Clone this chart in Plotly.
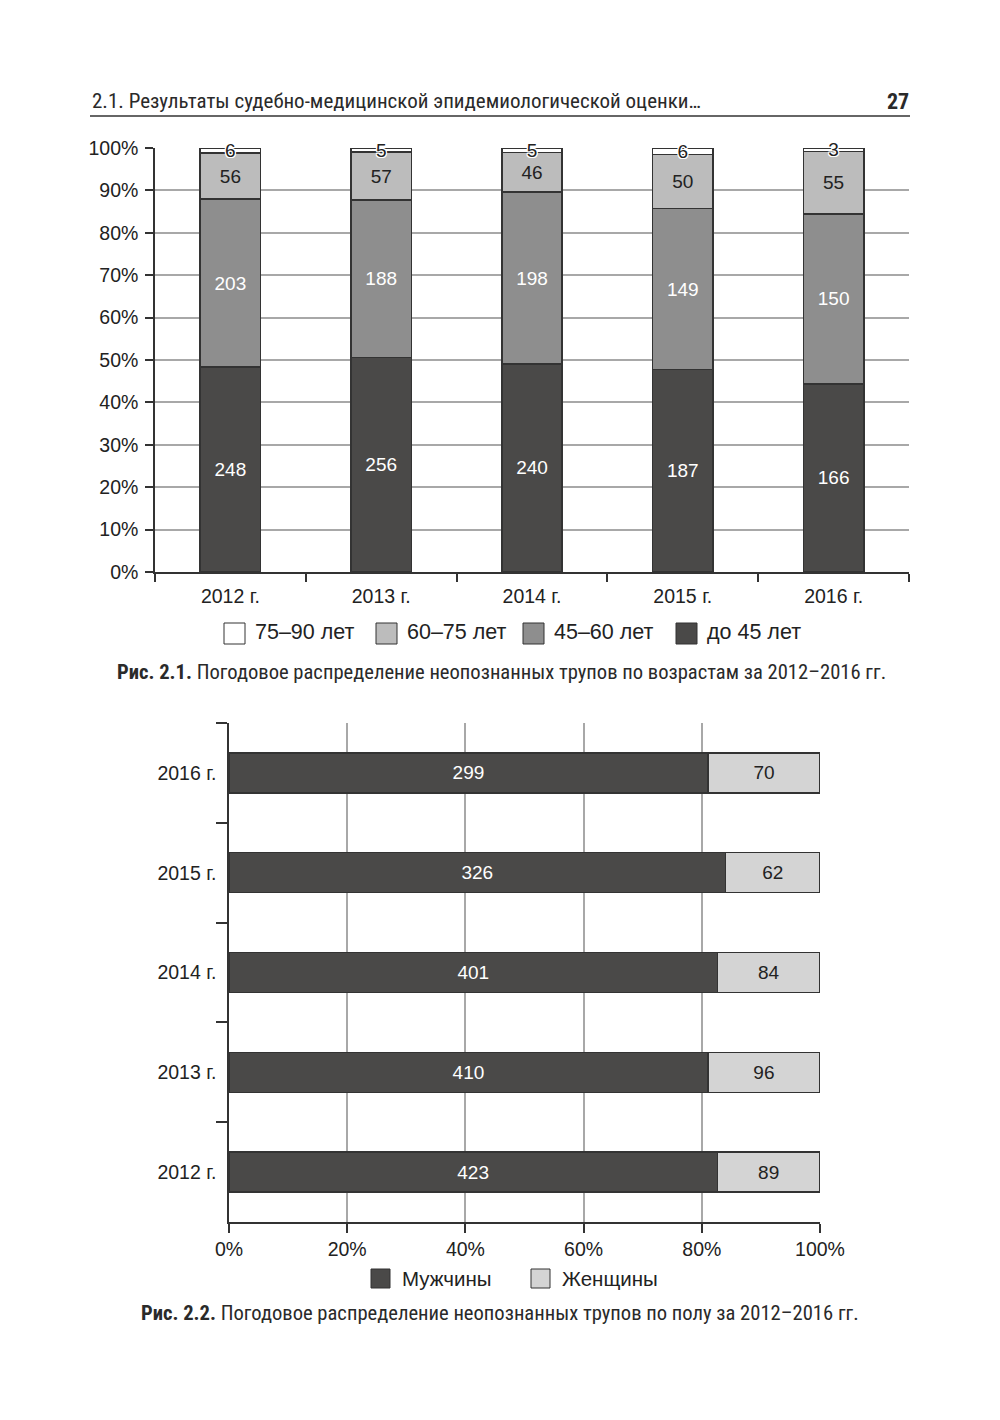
import plotly.graph_objects as go

# ---------------- data ----------------
years = ["2012 г.", "2013 г.", "2014 г.", "2015 г.", "2016 г."]
age_under45 = [248, 256, 240, 187, 166]
age_45_60 = [203, 188, 198, 149, 150]
age_60_75 = [56, 57, 46, 50, 55]
age_75_90 = [6, 5, 5, 6, 3]
age_names = ["до 45 лет", "45–60 лет", "60–75 лет", "75–90 лет"]

men = [423, 410, 401, 326, 299]
women = [89, 96, 84, 62, 70]
sex_names = ["Мужчины", "Женщины"]

pct_ticks_top = list(range(0, 101, 10))
pct_ticks_bottom = list(range(0, 101, 20))

# ---------------- style ----------------
W, H = 1000, 1420
OFF = 8  # page body margin compensation
def px(x):
    return (x - OFF) / W
def py(y):
    return 1 - (y - OFF) / H

FONT = "Liberation Sans, Arial, sans-serif"
COND = "Liberation Sans Narrow, Roboto Condensed, DejaVu Sans Condensed, sans-serif"
DARK = "#4a4948"
MID = "#8e8e8e"
LIGHT = "#bcbcbc"
WHITE = "#ffffff"
LIGHT2 = "#d4d4d4"
EDGE = "#333333"
GRID = "#a8a8a8"
HALO = "1px 1px 0 #fff, -1px -1px 0 #fff, 1px -1px 0 #fff, -1px 1px 0 #fff, 0 1px 0 #fff, 0 -1px 0 #fff, 1px 0 0 #fff, -1px 0 0 #fff"

fig = go.Figure()

age_series = [age_under45, age_45_60, age_60_75, age_75_90]
age_colors = [DARK, MID, LIGHT, WHITE]
age_textcolors = ["#ffffff", "#ffffff", "#222222", "#222222"]
for vals, name, col, tcol in zip(age_series, age_names, age_colors, age_textcolors):
    tf = dict(family=FONT, size=19, color=tcol)
    if col == WHITE:
        tf["shadow"] = HALO
    fig.add_trace(go.Bar(
        x=years, y=vals, name=name, text=[str(v) for v in vals],
        texttemplate="%{text}", textposition="inside", insidetextanchor="middle",
        constraintext="none", textangle=0, textfont=tf,
        marker=dict(color=col, line=dict(color=EDGE, width=1.5)),
        width=0.4, xaxis="x", yaxis="y", showlegend=False, cliponaxis=False,
    ))

sex_series = [men, women]
sex_colors = [DARK, LIGHT2]
sex_textcolors = ["#ffffff", "#222222"]
for vals, name, col, tcol in zip(sex_series, sex_names, sex_colors, sex_textcolors):
    fig.add_trace(go.Bar(
        y=years, x=vals, name=name, orientation="h", text=[str(v) for v in vals],
        texttemplate="%{text}", textposition="inside", insidetextanchor="middle",
        constraintext="none", textangle=0,
        textfont=dict(family=FONT, size=19, color=tcol),
        marker=dict(color=col, line=dict(color=EDGE, width=1.5)),
        width=0.4, xaxis="x2", yaxis="y2", showlegend=False,
    ))

axis_common = dict(linecolor=EDGE, linewidth=1.5, tickcolor=EDGE, tickwidth=1.5, automargin=False,
                   tickfont=dict(family=FONT, size=19.5, color="#222222"))

fig.update_layout(
    width=W, height=H, margin=dict(l=0, r=0, t=0, b=0, autoexpand=False),
    paper_bgcolor="white", plot_bgcolor="white",
    barmode="stack", barnorm="percent", showlegend=False,
    font=dict(family=FONT, color="#222222"),
    xaxis=dict(domain=[px(155), px(909)], anchor="y", type="category",
               categoryorder="array", categoryarray=years,
               showline=True, ticks="outside", ticklen=8, tickson="boundaries",
               ticklabelstandoff=6, showgrid=False, **axis_common),
    yaxis=dict(domain=[py(572), py(148)], anchor="x", range=[0, 100],
               tickvals=pct_ticks_top, ticktext=[f"{v}%" for v in pct_ticks_top],
               showline=True, ticks="outside", ticklen=8, showgrid=True, ticklabelstandoff=3,
               gridcolor=GRID, gridwidth=1.5, zeroline=False, **axis_common),
    xaxis2=dict(domain=[px(229), px(820)], anchor="y2", range=[0, 100],
                tickvals=pct_ticks_bottom, ticktext=[f"{v}%" for v in pct_ticks_bottom],
                showline=True, ticks="outside", ticklen=9, showgrid=True,
                gridcolor=GRID, gridwidth=1.5, zeroline=False, **axis_common),
    yaxis2=dict(domain=[py(1222), py(723)], anchor="x2", type="category",
                categoryorder="array", categoryarray=years,
                showline=True, ticks="outside", ticklen=11, tickson="boundaries",
                ticklabelstandoff=7, showgrid=False, **axis_common),
)

shapes = []
annotations = []

# header
annotations.append(dict(xref="paper", yref="paper", x=px(90), y=py(101), xanchor="left", yanchor="middle",
                        text="2.1. Результаты судебно-медицинской эпидемиологической оценки…",
                        showarrow=False, font=dict(family=COND, size=21, color="#2a2a2a")))
annotations.append(dict(xref="paper", yref="paper", x=px(911), y=py(101), xanchor="right", yanchor="middle",
                        text="<b>27</b>", showarrow=False, font=dict(family=COND, size=22, color="#2a2a2a")))
shapes.append(dict(type="line", xref="paper", yref="paper", x0=px(90), x1=px(910), y0=py(116), y1=py(116),
                   line=dict(color="#666666", width=2)))

# legend 1 (manual)
leg1 = [(224, WHITE, "75–90 лет"), (376, LIGHT, "60–75 лет"), (523, MID, "45–60 лет"), (676, DARK, "до 45 лет")]
for x0, col, label in leg1:
    shapes.append(dict(type="rect", xref="paper", yref="paper", x0=px(x0), x1=px(x0 + 21),
                       y0=py(644), y1=py(623), fillcolor=col, line=dict(color=EDGE, width=1)))
    annotations.append(dict(xref="paper", yref="paper", x=px(x0 + 29), y=py(632), xanchor="left", yanchor="middle",
                            text=label, showarrow=False, font=dict(family=FONT, size=21.5, color="#222222")))

# legend 2 (manual)
leg2 = [(371, DARK, "Мужчины"), (531, LIGHT2, "Женщины")]
for x0, col, label in leg2:
    shapes.append(dict(type="rect", xref="paper", yref="paper", x0=px(x0), x1=px(x0 + 19),
                       y0=py(1288), y1=py(1269), fillcolor=col, line=dict(color=EDGE, width=1)))
    annotations.append(dict(xref="paper", yref="paper", x=px(x0 + 29), y=py(1278), xanchor="left", yanchor="middle",
                            text=label, showarrow=False, font=dict(family=FONT, size=20.5, color="#222222")))

# captions
annotations.append(dict(xref="paper", yref="paper", x=px(501), y=py(672), xanchor="center", yanchor="middle",
                        text="<b>Рис. 2.1.</b> Погодовое распределение неопознанных трупов по возрастам за 2012–2016 гг.",
                        showarrow=False, font=dict(family=COND, size=20.6, color="#2a2a2a")))
annotations.append(dict(xref="paper", yref="paper", x=px(500), y=py(1313), xanchor="center", yanchor="middle",
                        text="<b>Рис. 2.2.</b> Погодовое распределение неопознанных трупов по полу за 2012–2016 гг.",
                        showarrow=False, font=dict(family=COND, size=20.6, color="#2a2a2a")))

fig.update_layout(shapes=shapes, annotations=annotations)
fig.write_html("out.html")
